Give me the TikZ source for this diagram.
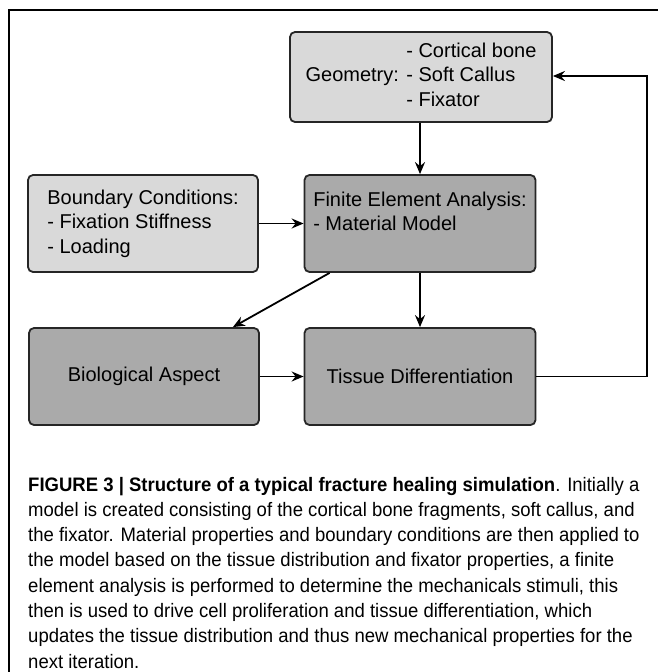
\documentclass[tikz,border=0pt]{standalone}
\usepackage{fontspec}
\setmainfont{Liberation Sans}
\newfontfamily\capfont{Liberation Sans}[FakeStretch=0.95]
\usetikzlibrary{arrows.meta,calc}
\definecolor{lightbox}{HTML}{D9D9D9}
\definecolor{darkbox}{HTML}{AAAAAA}
\begin{document}
\begin{tikzpicture}[x=1pt,y=-1pt,
  box/.style={draw=black!85, line width=1.8pt, rounded corners=5pt, inner sep=0pt,
    font=\fontsize{20}{24.5}\selectfont, align=left},
  lightb/.style={box, fill=lightbox},
  darkb/.style={box, fill=darkbox},
  arr/.style={line width=1.8pt, -{Stealth[length=12pt,width=10pt,inset=4pt]}},
  capline/.style={anchor=base west, inner sep=0pt, font=\capfont\fontsize{19.5}{25}\selectfont}]
\useasboundingbox (0,0) rectangle (657,672);
\draw[line width=1.2pt] (9,690) -- (9,10) -- (670,10);

\node[lightb, minimum width=262pt, minimum height=90pt] (geo) at (421,77)
  {\begin{tabular}{@{}r@{ }l@{}} & - Cortical bone\\ Geometry: & - Soft Callus\\ & - Fixator\end{tabular}};
\node[lightb, minimum width=230pt, minimum height=97pt] (bc) at (143,223.5)
  {Boundary Conditions:\\- Fixation Stiffness\\- Loading};
\node[darkb, minimum width=231pt, minimum height=97pt] (fea) at (420,223.5)
  {Finite Element Analysis:\\- Material Model\\\mbox{}};
\node[darkb, minimum width=230pt, minimum height=97pt] (bio) at (144,376.5)
  {Biological Aspect};
\node[darkb, minimum width=231pt, minimum height=97pt] (tis) at (420,376.5)
  {Tissue Differentiation};

\draw[arr] (fea.north |- geo.south) -- (fea.north);
\draw[arr] (bc.east) -- (fea.west);
\draw[arr] ($(fea.south west)+(26,0)$) -- ($(bio.north east)+(-27,0)$);
\draw[arr] (fea.south) -- (tis.north);
\draw[arr] (bio.east) -- (tis.west);
\coordinate (loopc) at (647,76);
\draw[arr] (tis.east) -| (loopc) -- (geo.east |- loopc);

\node[capline] (c1) at (28,491) {\textbf{FIGURE 3 | Structure of a typical fracture healing simulation}. Initially a};
\node[capline] (c2) at (28,516.3) {model is created consisting of the cortical bone fragments, soft callus, and};
\node[capline] (c3) at (28,541.6) {the fixator. Material properties and boundary conditions are then applied to};
\node[capline] (c4) at (28,566.9) {the model based on the tissue distribution and fixator properties, a finite};
\node[capline] (c5) at (28,592.2) {element analysis is performed to determine the mechanicals stimuli, this};
\node[capline] (c6) at (28,617.5) {then is used to drive cell proliferation and tissue differentiation, which};
\node[capline] (c7) at (28,642.8) {updates the tissue distribution and thus new mechanical properties for the};
\node[capline] (c8) at (28,668.1) {next iteration.};
\end{tikzpicture}
\end{document}
